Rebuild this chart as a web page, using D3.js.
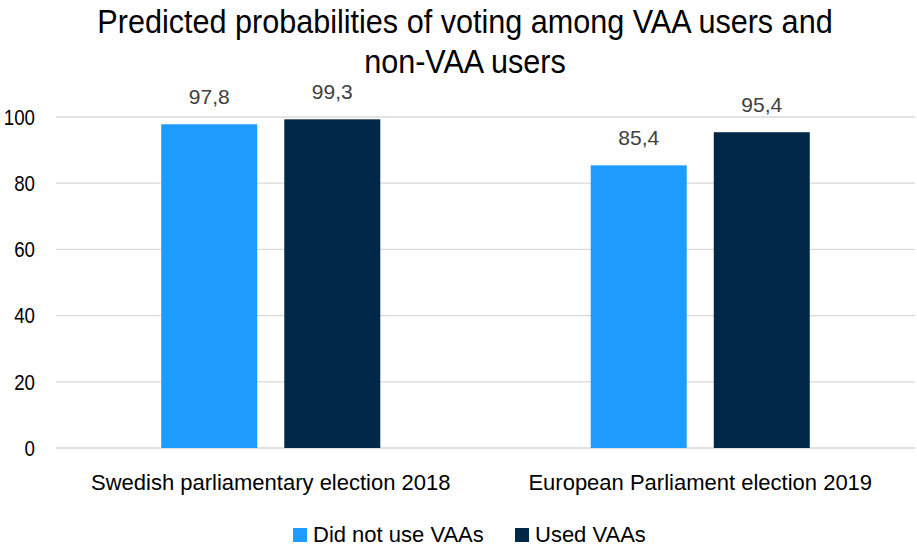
<!DOCTYPE html>
<html>
<head>
<meta charset="utf-8">
<script src="https://cdn.jsdelivr.net/npm/d3@7"></script>
<style>
  html, body { margin: 0; padding: 0; background: #fff; }
  svg text { font-family: "Liberation Sans Narrow", "Arial Narrow", "Liberation Sans", Arial, sans-serif; }
</style>
</head>
<body>
<svg id="chart" width="917" height="548"></svg>
<script>
// Election categories and series
const categories = ["Swedish parliamentary election 2018", "European Parliament election 2019"];
const seriesNames = ["Did not use VAAs", "Used VAAs"];
const didNotUse = [97.8, 85.4];
const usedVAAs = [99.3, 95.4];
const yTicks = [0, 20, 40, 60, 80, 100];
const colors = ["#1E9BFF", "#012846"];
const titleLines = ["Predicted probabilities of voting among VAA users and", "non-VAA users"];

const svg = d3.select("#chart");
const margin = { left: 56, right: 2, top: 117, bottom: 100 };
const W = 917, H = 548;

const x0 = d3.scaleBand().domain(categories).range([margin.left, W - margin.right]).padding(0);
const y = d3.scaleLinear().domain([0, 100]).range([448, 117]);

const barW = x0.bandwidth() * 0.2235;
const gap = x0.bandwidth() * 0.063;
const x1 = d3.scaleOrdinal().domain(seriesNames).range([-(gap / 2 + barW), gap / 2]);

// Gridlines
svg.append("g").selectAll("line").data(yTicks).join("line")
  .attr("x1", margin.left).attr("x2", W - margin.right)
  .attr("y1", d => y(d)).attr("y2", d => y(d))
  .attr("stroke", "#d9d9d9").attr("stroke-width", 1.3);

// Y tick labels (horizontally condensed)
svg.append("g").selectAll("text").data(yTicks).join("text")
  .attr("transform", d => `translate(35,${y(d)}) scale(0.85,1)`)
  .attr("dy", "0.35em")
  .attr("text-anchor", "end").attr("font-size", 22).attr("fill", "#000")
  .text(d => d);

// Bars
const rows = categories.map((c, i) => ({ cat: c, vals: [didNotUse[i], usedVAAs[i]] }));
const groups = svg.append("g").selectAll("g").data(rows).join("g");
groups.selectAll("rect").data(d => d.vals.map((v, j) => ({ cat: d.cat, name: seriesNames[j], v, j })))
  .join("rect")
  .attr("x", d => x0(d.cat) + x0.bandwidth() / 2 + x1(d.name))
  .attr("width", barW)
  .attr("y", d => y(d.v))
  .attr("height", d => y(0) - y(d.v))
  .attr("fill", d => colors[d.j]);

// Value labels
groups.selectAll("text").data(d => d.vals.map((v, j) => ({ cat: d.cat, name: seriesNames[j], v, j })))
  .join("text")
  .attr("x", d => x0(d.cat) + x0.bandwidth() / 2 + x1(d.name) + barW / 2)
  .attr("y", d => y(d.v) - 20)
  .attr("text-anchor", "middle").attr("font-size", 21).attr("fill", "#404040")
  .text(d => d3.format(".1f")(d.v).replace(".", ","));

// Category labels
svg.append("g").selectAll("text").data(categories).join("text")
  .attr("x", d => x0(d) + x0.bandwidth() / 2).attr("y", 490)
  .attr("text-anchor", "middle").attr("font-size", 22).attr("fill", "#000")
  .text(d => d);

// Title (horizontally condensed)
svg.append("g").selectAll("text").data(titleLines).join("text")
  .attr("transform", (d, i) => `translate(465,${33 + i * 40}) scale(0.927,1)`)
  .attr("text-anchor", "middle").attr("font-size", 33).attr("fill", "#000")
  .text(d => d);

// Legend
const legend = svg.append("g");
const legendX = [293, 515];
seriesNames.forEach((n, i) => {
  legend.append("rect").attr("x", legendX[i]).attr("y", 528).attr("width", 14).attr("height", 14).attr("fill", colors[i]);
  legend.append("text").attr("x", legendX[i] + 20).attr("y", 542).attr("font-size", 22).attr("fill", "#000").text(n);
});
</script>
</body>
</html>
